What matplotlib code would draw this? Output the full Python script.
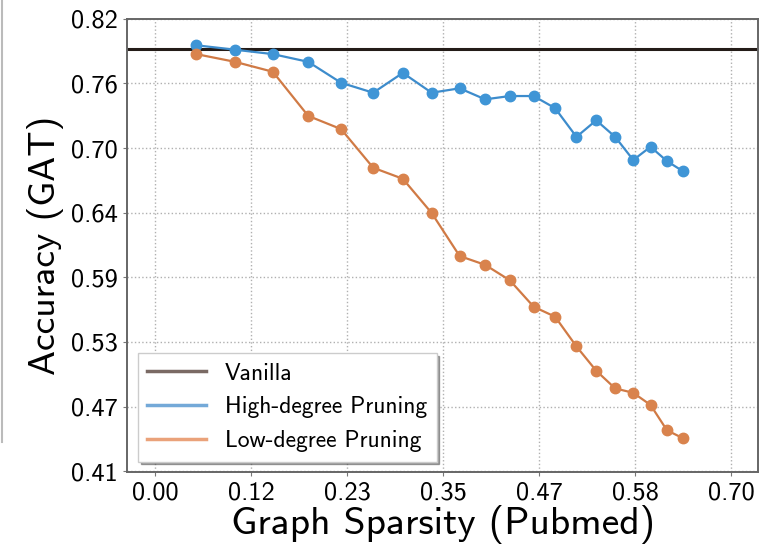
import matplotlib
matplotlib.use('Agg')
import matplotlib.pyplot as plt
from matplotlib.lines import Line2D
import numpy as np

plt.rcParams['font.family'] = ['cmss10', 'DejaVu Sans']
plt.rcParams['axes.unicode_minus'] = False

# data
sparsity = [0.050, 0.097, 0.143, 0.186, 0.226, 0.265, 0.301, 0.336, 0.370, 0.401,
            0.431, 0.460, 0.486, 0.512, 0.536, 0.559, 0.581, 0.602, 0.622, 0.641]
acc_high = [0.796, 0.792, 0.788, 0.781, 0.762, 0.753, 0.771, 0.753, 0.757, 0.747,
            0.750, 0.750, 0.739, 0.713, 0.728, 0.713, 0.692, 0.704, 0.691, 0.682]
acc_low = [0.788, 0.781, 0.772, 0.732, 0.720, 0.685, 0.675, 0.644, 0.605, 0.597,
           0.583, 0.559, 0.550, 0.523, 0.501, 0.485, 0.481, 0.470, 0.447, 0.440]
acc_vanilla = 0.793

xticks = [0.00, 0.12, 0.23, 0.35, 0.47, 0.58, 0.70]
yticks = [0.41, 0.47, 0.53, 0.59, 0.64, 0.70, 0.76, 0.82]

fig = plt.figure(figsize=(7.66, 5.53), dpi=100)
ax = fig.add_axes([0.166, 0.146, 0.824, 0.820])

ax.axhline(acc_vanilla, color='#241c18', lw=2.2, zorder=2)
ax.plot(sparsity, acc_high, '-o', color='#3d8ccc', mfc='#3f95d6', mec='#3f95d6',
        ms=7.5, lw=1.6, zorder=3)
ax.plot(sparsity, acc_low, '-o', color='#d07a45', mfc='#d9834d', mec='#d9834d',
        ms=7.5, lw=1.6, zorder=3)

xt = np.linspace(0, 0.70, 7)
yt = np.linspace(0.41, 0.82, 8)
ax.set_xticks(xt)
ax.set_xticklabels([f'{v:.2f}' for v in xticks])
ax.set_yticks(yt)
ax.set_yticklabels([f'{v:.2f}' for v in yticks])
ax.set_xlim(-0.034, 0.733)
ax.set_ylim(0.409, 0.82)

ax.grid(True, ls=':', color='#b0b0b0', lw=1.0)
ax.tick_params(labelsize=19, length=3, color='#777777', pad=4)
for s in ax.spines.values():
    s.set_color('#666666')
    s.set_linewidth(1.4)

ax.set_xlabel('Graph Sparsity (Pubmed)', fontsize=28.5, labelpad=0)
ax.set_ylabel('Accuracy (GAT)', fontsize=27, labelpad=5)

handles = [Line2D([], [], color='#7a6a64', lw=2.5),
           Line2D([], [], color='#74a9d8', lw=2.5),
           Line2D([], [], color='#eaa27a', lw=2.5)]
ax.legend(handles, ['Vanilla', 'High-degree Pruning', 'Low-degree Pruning'],
          loc='lower left', fontsize=17, fancybox=False, shadow=True,
          framealpha=1, edgecolor='#cccccc', borderaxespad=0.45,
          handlelength=2.5, labelspacing=0.5)

fig.add_artist(Line2D([0.003, 0.003], [1.0, 0.2], color='#bbbbbb', lw=1.5,
                      transform=fig.transFigure))

fig.savefig('out.png', dpi=100)
